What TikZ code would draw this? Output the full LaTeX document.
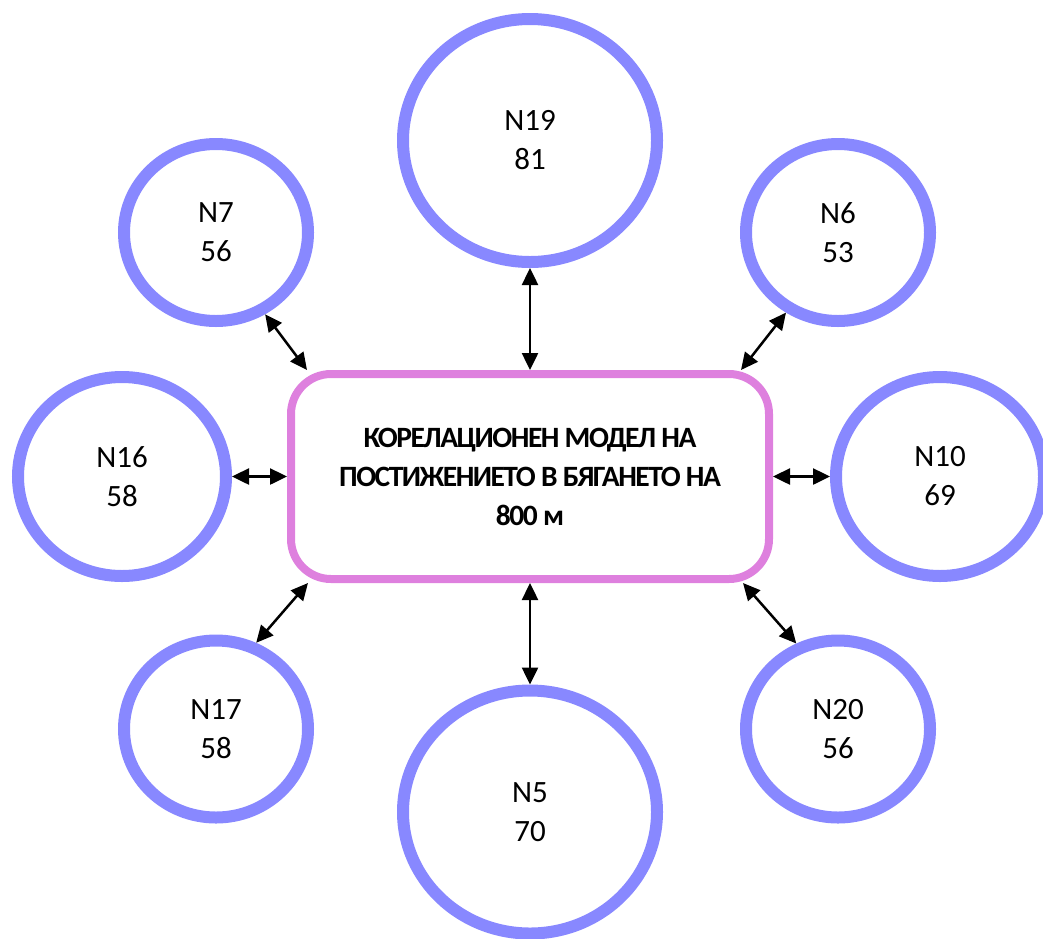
\documentclass[tikz,border=0pt]{standalone}
\usepackage{fontspec}
\setmainfont{Carlito}
\usepackage{xcolor}
\usetikzlibrary{positioning, arrows.meta, shapes.geometric}

\definecolor{ringblue}{RGB}{136,136,255}
\definecolor{modelpink}{RGB}{222,128,222}

\begin{document}
\begin{tikzpicture}[
    x=1pt, y=-1pt,
    ring/.style={ellipse, draw=ringblue, line width=12pt, align=center, inner sep=0pt, font=\fontsize{31}{39}\selectfont},
    bigring/.style={ring, minimum width=254pt, minimum height=243pt},
    midring/.style={ring, minimum width=208pt, minimum height=199pt},
    smallring/.style={ring, minimum width=184pt, minimum height=177pt},
    modelbox/.style={rectangle, draw=modelpink, line width=8pt, rounded corners=40pt, minimum width=478pt, minimum height=205pt, align=center, font=\fontsize{29.5}{39}\selectfont\bfseries\addfontfeatures{LetterSpace=-5}},
    link/.style={{Triangle[length=17pt,width=16pt]}-{Triangle[length=17pt,width=16pt]}, line width=2.5pt}
]
\useasboundingbox (0,0) rectangle (1043,938);

% Nodes
\node[modelbox] (model) at (530,476.5) {КОРЕЛАЦИОНЕН МОДЕЛ НА\\ПОСТИЖЕНИЕТО В БЯГАНЕТО НА\\800 м};

\node[bigring, above=102pt of model] (n19) {N19\\81};
\node[bigring, below=101.5pt of model] (n5) {N5\\70};
\node[midring, left=55pt of model] (n16) {N16\\58};
\node[midring, right=57pt of model] (n10) {N10\\69};

\node[smallring] (n7) at (216,232.5) {N7\\56};
\node[smallring] (n6) at (838,232.5) {N6\\53};
\node[smallring] (n17) at (216,729) {N17\\58};
\node[smallring] (n20) at (838,729) {N20\\56};

% Arrows
\draw[link] (n19.south) -- (model.north);
\draw[link] (model.south) -- (n5.north);
\draw[link] (n16.east) -- (model.west);
\draw[link] (model.east) -- (n10.west);

\draw[link] (n7.-59) -- ([xshift=20pt]model.north west);
\draw[link] (n6.-123.5) -- ([xshift=-32pt]model.north east);
\draw[link] (n17.65.6) -- ([xshift=21pt]model.south west);
\draw[link] (n20.116.6) -- ([xshift=-30pt]model.south east);

\end{tikzpicture}
\end{document}
